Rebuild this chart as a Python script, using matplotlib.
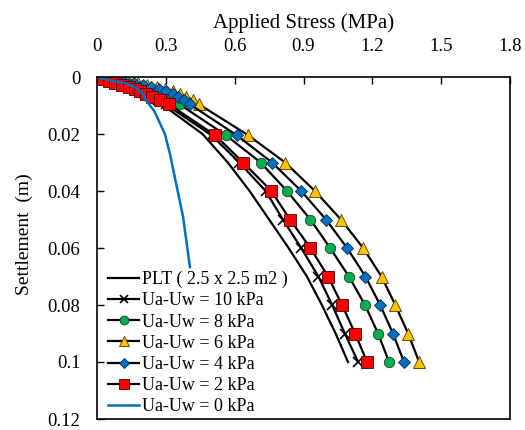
import matplotlib
matplotlib.use("Agg")
import matplotlib.pyplot as plt

plt.rcParams['font.family'] = ['Liberation Serif', 'DejaVu Serif']

# settlement (m) at each load step
s_early = [0, 0.0007, 0.0014, 0.002, 0.0027, 0.0034, 0.0042, 0.005, 0.0059, 0.0069, 0.0082, 0.0096]
s_late = [0.0205, 0.03, 0.04, 0.05, 0.06, 0.07, 0.08, 0.09, 0.1]
settle = s_early + s_late

# field plate load test
plt_settle = [0, 0.002, 0.005, 0.01, 0.02, 0.03, 0.04, 0.05, 0.06, 0.07, 0.08, 0.09, 0.1]
plt_stress = [0, 0.07, 0.17, 0.29, 0.46, 0.57, 0.665, 0.75, 0.835, 0.915, 0.98, 1.04, 1.094]

# applied stress (MPa) per matric suction
stress_10 = [0, 0.02, 0.05, 0.075, 0.105, 0.135, 0.16, 0.185, 0.21, 0.235, 0.265, 0.30,
             0.50, 0.62, 0.735, 0.81, 0.89, 0.965, 1.025, 1.08, 1.138]
stress_8 = [0, 0.05, 0.095, 0.135, 0.17, 0.2, 0.23, 0.26, 0.285, 0.31, 0.335, 0.36,
            0.563, 0.713, 0.828, 0.93, 1.016, 1.098, 1.168, 1.225, 1.273]
stress_6 = [0, 0.07, 0.13, 0.18, 0.22, 0.26, 0.295, 0.33, 0.36, 0.39, 0.42, 0.445,
            0.66, 0.82, 0.95, 1.063, 1.16, 1.24, 1.30, 1.356, 1.404]
stress_4 = [0, 0.06, 0.115, 0.16, 0.2, 0.235, 0.27, 0.30, 0.33, 0.355, 0.38, 0.405,
            0.61, 0.763, 0.89, 0.998, 1.09, 1.17, 1.234, 1.29, 1.338]
stress_2 = [0, 0.022, 0.052, 0.078, 0.109, 0.139, 0.166, 0.187, 0.214, 0.240, 0.275, 0.314,
            0.516, 0.637, 0.76, 0.841, 0.93, 1.007, 1.068, 1.125, 1.177]

# saturated case
s_zero = [0, 0.0014, 0.0021, 0.0035, 0.0056, 0.0088, 0.012, 0.02, 0.027, 0.039, 0.049, 0.0667]
stress_0 = [0, 0.065, 0.12, 0.165, 0.195, 0.22, 0.25, 0.296, 0.318, 0.349, 0.375, 0.405]

fig = plt.figure(figsize=(5.25, 4.3), dpi=100)
ax = fig.add_axes([97 / 525, 1 - 419 / 430, 413 / 525, 342 / 430])

ax.plot(plt_stress, plt_settle, color='black', lw=1.6, label='PLT ( 2.5 x 2.5 m2 )')
ax.plot(stress_10, settle, color='black', lw=1.6, marker='x', ms=7, mew=1.2,
        label='Ua-Uw = 10 kPa')
ax.plot(stress_8, settle, color='black', lw=1.6, marker='o', ms=7.5, mfc='#00B050',
        mec='#1f3f1f', mew=0.6, label='Ua-Uw = 8 kPa')
ax.plot(stress_6, settle, color='black', lw=1.6, marker='^', ms=8.5, mfc='#FFC000',
        mec='#4a3a00', mew=0.6, label='Ua-Uw = 6 kPa')
ax.plot(stress_4, settle, color='black', lw=1.6, marker='D', ms=6, mfc='#0070C0',
        mec='#0a2a4a', mew=0.6, label='Ua-Uw = 4 kPa')
ax.plot(stress_2, settle, color='black', lw=1.6, marker='s', ms=8, mfc='#FF0000',
        mec='#4a0000', mew=0.6, label='Ua-Uw = 2 kPa')
ax.plot(stress_0, s_zero, color='#0070C0', lw=1.8, label='Ua-Uw = 0 kPa')

ax.set_xlim(0, 1.8)
ax.set_ylim(0.12, 0)
ax.set_xticks([0, 0.3, 0.6, 0.9, 1.2, 1.5, 1.8])
ax.set_xticklabels(['0', '0.3', '0.6', '0.9', '1.2', '1.5', '1.8'])
ax.set_yticks([0, 0.02, 0.04, 0.06, 0.08, 0.1, 0.12])
ax.set_yticklabels(['0', '0.02', '0.04', '0.06', '0.08', '0.1', '0.12'])
ax.xaxis.tick_top()
ax.xaxis.set_label_position('top')
ax.tick_params(axis='x', direction='in', length=5, width=1, pad=16, labelsize=13.5)
ax.tick_params(axis='y', direction='in', length=5, width=1, pad=12, labelsize=13.5)
for side in ax.spines.values():
    side.set_linewidth(1.2)

ax.set_xlabel('Applied Stress (MPa)', fontsize=15, labelpad=7)
ax.set_ylabel('Settlement  (m)', fontsize=14)
ax.yaxis.set_label_coords(-0.155, 0.54)

ax.legend(loc='upper left', bbox_to_anchor=(0.026, 0.433), frameon=False,
          fontsize=13, borderpad=0, borderaxespad=0, labelspacing=0.23,
          handlelength=1.75, handletextpad=0.15, markerscale=0.85)

fig.savefig('out.png', dpi=100)
